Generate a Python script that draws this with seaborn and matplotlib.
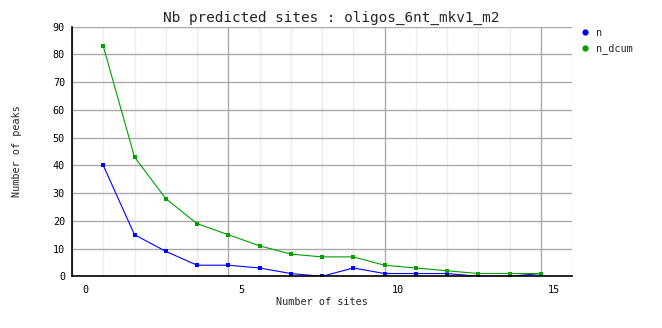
import matplotlib
matplotlib.use("Agg")
import matplotlib.pyplot as plt
from matplotlib.transforms import ScaledTranslation
from matplotlib.lines import Line2D
import seaborn as sns
import pandas as pd

sites = [1, 2, 3, 4, 5, 6, 7, 8, 9, 10, 11, 12, 13, 14, 15]
n = [40, 15, 9, 4, 4, 3, 1, 0, 3, 1, 1, 1, 0, 0, 1]
n_dcum = [83, 43, 28, 19, 15, 11, 8, 7, 7, 4, 3, 2, 1, 1, 1]
series_names = ["n", "n_dcum"]
colors = {"n": "#0000ff", "n_dcum": "#00a000"}
x_ticks = [0, 5, 10, 15]
y_ticks = [0, 10, 20, 30, 40, 50, 60, 70, 80, 90]

df = pd.DataFrame({
    "x": sites + sites,
    "y": n + n_dcum,
    "series": ["n"] * len(sites) + ["n_dcum"] * len(sites),
})

sns.set_style("white")
plt.rcParams["font.family"] = ["DejaVu Sans Mono"]

fig = plt.figure(figsize=(6.62, 3.28), dpi=100)
ax = fig.add_axes([72 / 662, 1 - 276.3 / 328, 500 / 662, 249.6 / 328])

sns.lineplot(data=df, x="x", y="y", hue="series", palette=colors,
             marker="s", markersize=3, markeredgewidth=0, linewidth=0.8,
             legend=False, ax=ax, zorder=3)

ax.set_xlim(0, 16)
ax.set_ylim(0, 90)
ax.set_xticks(x_ticks)
ax.set_xticks(range(0, 17), minor=True)
ax.set_yticks(y_ticks)
ax.grid(True, which="minor", axis="x", color="#eeeeee", linewidth=1, zorder=0)
ax.grid(True, which="major", axis="both", color="#aaaaaa", linewidth=1, zorder=1)
ax.set_axisbelow(True)
for s in ["top", "right"]:
    ax.spines[s].set_visible(False)
for s in ["left", "bottom"]:
    ax.spines[s].set_color("black")
    ax.spines[s].set_linewidth(1.2)
    ax.spines[s].set_zorder(5)
ax.tick_params(axis="both", which="both", length=0, labelsize=7.3, colors="black")
ax.tick_params(axis="y", pad=5)
ax.tick_params(axis="x", pad=6)
offset = ScaledTranslation(13 / 100, 0, fig.dpi_scale_trans)
for lab in ax.get_xticklabels():
    lab.set_transform(lab.get_transform() + offset)

ax.set_xlabel("Number of sites", fontsize=7.3)
ax.set_ylabel("Number of peaks", fontsize=7.3)
ax.xaxis.set_label_coords(0.5, -0.083)
ax.yaxis.set_label_coords(-0.1, 0.5)

fig.suptitle("Nb predicted sites : oligos_6nt_mkv1_m2", x=0.5, y=1 - 11 / 328,
             fontsize=10.4, va="top")

handles = [Line2D([], [], linestyle="none", marker="o", markersize=4.5,
                  markeredgewidth=0, color=colors[s]) for s in series_names]
fig.legend(handles, series_names, loc="upper left",
           bbox_to_anchor=(581 / 662, 1 - 28 / 328), frameon=False,
           fontsize=7.3, handlelength=0.8, handletextpad=0.7,
           labelspacing=0.55, borderaxespad=0, borderpad=0)

fig.savefig("out.png", dpi=100)
